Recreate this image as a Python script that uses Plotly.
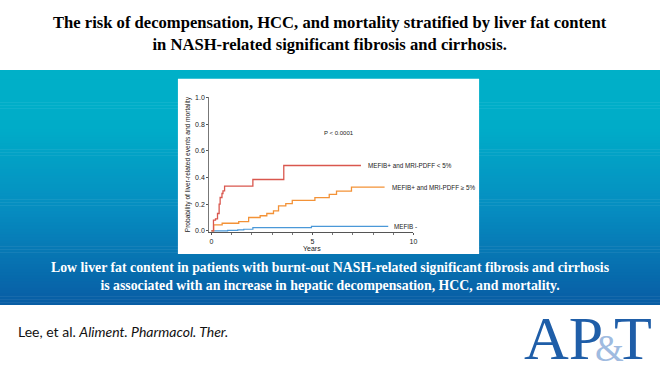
import plotly.graph_objects as go

W, H = 664, 372

# ---- data ----
red_t = [0, 0.10, 0.20, 0.30, 0.38, 0.43, 0.52, 0.57, 0.65, 2.05, 3.58, 7.40]
red_v = [0, 0.08, 0.09, 0.13, 0.20, 0.25, 0.28, 0.30, 0.335, 0.385, 0.49, 0.49]

orange_t = [0, 0.11, 0.53, 1.35, 1.84, 2.41, 2.74, 3.07, 3.32, 3.68, 4.00, 5.12, 5.83, 6.19, 6.93, 8.57]
orange_v = [0, 0.044, 0.057, 0.069, 0.100, 0.113, 0.130, 0.150, 0.187, 0.204, 0.229, 0.249, 0.273, 0.298, 0.328, 0.328]

blue_t = [0, 0.80, 1.30, 1.60, 2.05, 4.95, 8.75]
blue_v = [0, 0.003, 0.007, 0.012, 0.024, 0.034, 0.034]

y_ticks = [0, 0.2, 0.4, 0.6, 0.8, 1.0]
y_tick_labels = ["0.0", "0.2", "0.4", "0.6", "0.8", "1.0"]
x_ticks = [0, 5, 10]
x_tick_labels = ["0", "5", "10"]

series_labels = ["MEFIB+ and MRI-PDFF < 5%", "MEFIB+ and MRI-PDFF \u2265 5%", "MEFIB -"]
p_text = "P < 0.0001"

title_lines = ["The risk of decompensation, HCC, and mortality stratified by liver fat content",
               "in NASH-related significant fibrosis and cirrhosis."]
summary_lines = ["Low liver fat content in patients with burnt-out NASH-related significant fibrosis and cirrhosis",
                 "is associated with an increase in hepatic decompensation, HCC, and mortality."]

# ---- helpers ----
def px(x):
    return x / W

def py(y):
    return 1 - y / H

fig = go.Figure()

red_c = "#d9574e"
orange_c = "#f39237"
blue_c = "#4a98d8"

fig.add_trace(go.Scatter(x=blue_t, y=blue_v, mode="lines", line=dict(color=blue_c, width=1.2, shape="hv")))
fig.add_trace(go.Scatter(x=orange_t, y=orange_v, mode="lines", line=dict(color=orange_c, width=1.3, shape="hv")))
fig.add_trace(go.Scatter(x=red_t, y=red_v, mode="lines", line=dict(color=red_c, width=1.3, shape="hv")))

shapes = []
# banner gradient
top_y, bot_y = 67, 306
stops = [(0.0, (0, 176, 200)), (0.25, (0, 172, 200)), (0.6, (6, 140, 192)), (1.0, (8, 92, 164))]

def col_at(f):
    for (f0, c0), (f1, c1) in zip(stops[:-1], stops[1:]):
        if f0 <= f <= f1:
            t = (f - f0) / (f1 - f0)
            return "rgb(%d,%d,%d)" % tuple(round(a + (b - a) * t) for a, b in zip(c0, c1))
    return "rgb(%d,%d,%d)" % stops[-1][1]

n = 80
step = (bot_y - top_y) / n
for i in range(n):
    y0 = top_y + i * step
    y1 = y0 + step + 0.6
    shapes.append(dict(type="rect", xref="paper", yref="paper",
                       x0=0, x1=1, y0=py(min(y1, bot_y)), y1=py(y0),
                       fillcolor=col_at((i + 0.5) / n), line=dict(width=0), layer="below"))
# white chart panel
shapes.append(dict(type="rect", xref="paper", yref="paper",
                   x0=px(179), x1=px(482), y0=py(254), y1=py(76),
                   fillcolor="white", line=dict(width=0), layer="below"))

annotations = []
annotations.append(dict(text="<br>".join("<b>%s</b>" % s for s in title_lines), x=0.5, y=py(30),
                        xref="paper", yref="paper", showarrow=False, xanchor="center", yanchor="middle",
                        font=dict(family="Liberation Serif", size=16.6, color="black"), align="center"))
annotations.append(dict(text="<br>".join("<b>%s</b>" % s for s in summary_lines), x=0.5, y=py(277),
                        xref="paper", yref="paper", showarrow=False, xanchor="center", yanchor="middle",
                        font=dict(family="Liberation Serif", size=13.8, color="white"), align="center"))
annotations.append(dict(text="Lee, et al. <i>Aliment. Pharmacol. Ther.</i>", x=px(16), y=py(333),
                        xref="paper", yref="paper", showarrow=False, xanchor="left", yanchor="middle",
                        font=dict(family="Lato", size=14, color="#111")))
# logo
logo_c = "#1f5ea8"
annotations.append(dict(text="AP", x=px(525), y=py(339), xref="paper", yref="paper", showarrow=False,
                        xanchor="left", yanchor="middle",
                        font=dict(family="Liberation Serif", size=62, color=logo_c)))
annotations.append(dict(text="&", x=px(613), y=py(350), xref="paper", yref="paper", showarrow=False,
                        xanchor="center", yanchor="middle",
                        font=dict(family="Liberation Serif", size=37, color="#9fbbe0")))
annotations.append(dict(text="T", x=px(658), y=py(339), xref="paper", yref="paper", showarrow=False,
                        xanchor="right", yanchor="middle",
                        font=dict(family="Liberation Serif", size=62, color=logo_c)))

# chart texts
annotations.append(dict(text=p_text, x=6.3, y=0.73, xref="x", yref="y", showarrow=False,
                        xanchor="center", yanchor="middle", font=dict(family="Liberation Sans", size=6, color="#222")))
label_pos = [(red_t[-1] + 0.25, red_v[-1]), (orange_t[-1] + 0.25, orange_v[-1]), (blue_t[-1] + 0.2, blue_v[-1])]
for lab, (lx, ly) in zip(series_labels, label_pos):
    annotations.append(dict(text=lab, x=lx, y=ly, xref="x", yref="y", showarrow=False,
                            xanchor="left", yanchor="middle",
                            font=dict(family="Liberation Sans", size=6.3, color="#222")))
annotations.append(dict(text="Probability of liver-related events and mortality", x=px(189.5), y=py(162.5),
                        xref="paper", yref="paper", showarrow=False, textangle=-90,
                        xanchor="center", yanchor="middle",
                        font=dict(family="Liberation Sans", size=6.6, color="#222")))
annotations.append(dict(text="Years", x=px(314), y=py(248), xref="paper", yref="paper", showarrow=False,
                        xanchor="center", yanchor="middle",
                        font=dict(family="Liberation Sans", size=7, color="#222")))

fig.update_layout(
    width=W, height=H, margin=dict(l=0, r=0, t=0, b=0),
    paper_bgcolor="white", plot_bgcolor="rgba(0,0,0,0)",
    showlegend=False, hovermode=False,
    shapes=shapes, annotations=annotations,
    xaxis=dict(domain=[px(210.7), px(416)], range=[-0.1, 10.0], showgrid=False, zeroline=False,
               showline=True, linecolor="#555", linewidth=1.2,
               tickvals=x_ticks, ticktext=x_tick_labels, ticks="outside", ticklen=2, tickwidth=1,
               tickcolor="#555", tickfont=dict(family="Liberation Sans", size=7, color="#222"),
               minor=dict(dtick=1, tick0=0, ticks="outside", ticklen=2, tickcolor="#777")),
    yaxis=dict(domain=[py(231.9), py(95)], range=[-0.01, 1.0], showgrid=False, zeroline=False,
               showline=True, linecolor="#777", linewidth=1.2,
               tickvals=y_ticks, ticktext=y_tick_labels, ticks="outside", ticklen=2, tickwidth=1,
               tickcolor="#555", tickfont=dict(family="Liberation Sans", size=7, color="#222")),
)

fig.write_html("out.html", config={"displayModeBar": False, "staticPlot": True},
               post_script="document.body.style.margin='0';document.body.style.padding='0';")
